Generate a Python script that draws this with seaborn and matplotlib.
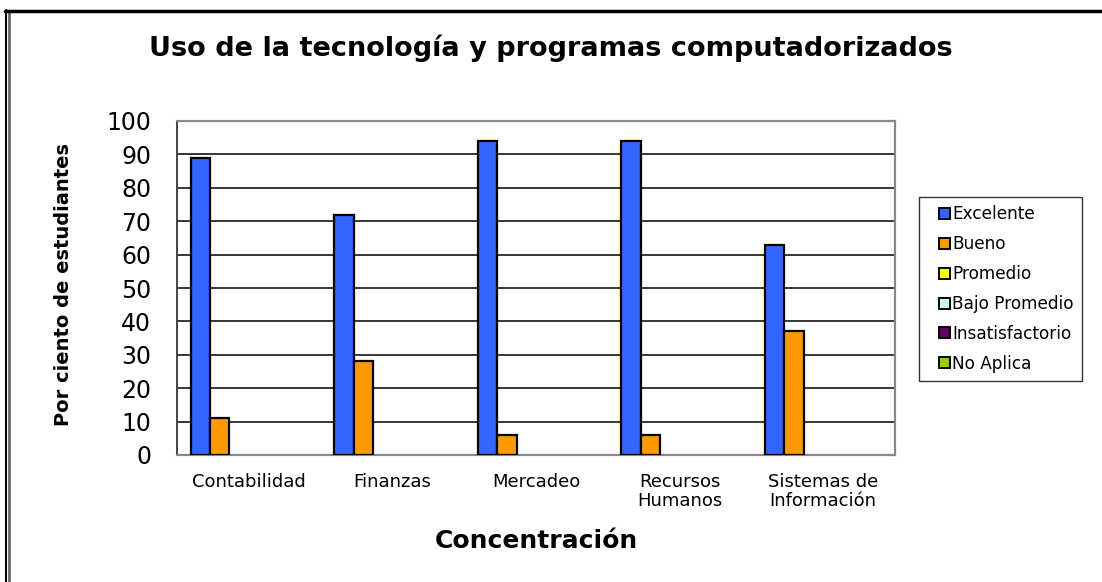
import numpy as np
import pandas as pd
import matplotlib
matplotlib.use("Agg")
import matplotlib.pyplot as plt
from matplotlib.lines import Line2D
from matplotlib.patches import Rectangle
from matplotlib.legend_handler import HandlerPatch
import seaborn as sns

# data
concentraciones = ["Contabilidad", "Finanzas", "Mercadeo", "Recursos\nHumanos", "Sistemas de\nInformación"]
niveles = ["Excelente", "Bueno", "Promedio", "Bajo Promedio", "Insatisfactorio", "No Aplica"]
excelente = [89, 72, 94, 94, 63]
bueno = [11, 28, 6, 6, 37]
promedio = [0, 0, 0, 0, 0]
bajo_promedio = [0, 0, 0, 0, 0]
insatisfactorio = [0, 0, 0, 0, 0]
no_aplica = [0, 0, 0, 0, 0]
colores = ["#3366FF", "#FF9900", "#FFFF00", "#CCFFFF", "#660066", "#99CC00"]
y_ticks = [0, 10, 20, 30, 40, 50, 60, 70, 80, 90, 100]

series = [excelente, bueno, promedio, bajo_promedio, insatisfactorio, no_aplica]
df = pd.DataFrame({
    "Concentración": np.tile(concentraciones, len(niveles)),
    "Nivel": np.repeat(niveles, len(concentraciones)),
    "Valor": np.concatenate(series),
})

sns.set_style("white")
plt.rcParams["font.family"] = ["DejaVu Sans"]
plt.rcParams["text.color"] = "black"
plt.rcParams["xtick.color"] = "black"
plt.rcParams["ytick.color"] = "black"
plt.rcParams["axes.labelcolor"] = "black"

W, H = 1102, 582
fig = plt.figure(figsize=(W / 100, H / 100), dpi=100)
ax = fig.add_axes([177 / W, 1 - 455 / H, (895 - 177) / W, (455 - 121) / H])

sns.barplot(
    data=df, x="Concentración", y="Valor", hue="Nivel",
    order=concentraciones, hue_order=niveles, palette=colores,
    saturation=1, width=0.81, gap=0, edgecolor="black", linewidth=1.6,
    dodge=True, legend=True, ax=ax, zorder=3,
)
# empty bars leave no outline in the original
for p in ax.patches:
    if p.get_height() == 0:
        p.set_linewidth(0)

ax.set_ylim(0, 100)
ax.set_xlim(-0.5, len(concentraciones) - 0.5)
ax.set_yticks(y_ticks)
ax.set_yticklabels([str(v) for v in y_ticks], fontsize=17)
ax.yaxis.grid(True, color="black", linewidth=1.1, zorder=0)
ax.set_axisbelow(True)

ax.set_xticks(range(len(concentraciones)))
ax.set_xticklabels(concentraciones, fontsize=13, linespacing=1.1)
ax.set_xticks(np.arange(-0.5, len(concentraciones), 1), minor=True)
ax.tick_params(axis="x", which="major", length=0, pad=13)
ax.tick_params(axis="x", which="minor", length=5, width=1.2, color="#555555", direction="out")
ax.tick_params(axis="y", length=6.5, width=1.2, color="#333333", direction="out", pad=12)

for side in ["top", "right", "bottom"]:
    ax.spines[side].set_color("#888888")
    ax.spines[side].set_linewidth(1.6)
ax.spines["left"].set_color("#444444")
ax.spines["left"].set_linewidth(1.4)

ax.set_xlabel("Concentración", fontsize=18, fontweight="bold", labelpad=13)
ax.set_ylabel("")
fig.text(64 / W, 1 - 285 / H, "Por ciento de estudiantes", rotation=90,
         ha="center", va="center", fontsize=14, fontweight="bold")
fig.suptitle("Uso de la tecnología y programas computadorizados",
             fontsize=19.5, fontweight="bold", x=0.5, y=1 - 35 / H)


def square_handle(legend, orig_handle, xdescent, ydescent, width, height, fontsize):
    s = height
    return Rectangle((width - s - xdescent, -ydescent), s, s)


handles, labels = ax.get_legend_handles_labels()
ax.get_legend().remove()
leg = fig.legend(
    handles, labels, loc="upper left", bbox_to_anchor=(919 / W, 1 - 197 / H),
    fontsize=12.2, frameon=True, fancybox=False, edgecolor="black",
    handlelength=1.3, handleheight=0.62, handletextpad=0.15,
    labelspacing=0.7, borderpad=0.5, borderaxespad=0,
    handler_map={Rectangle: HandlerPatch(patch_func=square_handle)},
)
leg.get_frame().set_linewidth(1.0)
for h in leg.legend_handles:
    h.set_edgecolor("black")
    h.set_linewidth(1.4)

# outer chart frame (left and top edges)
fig.add_artist(Line2D([5.5 / W, 5.5 / W], [0, 1 - 10 / H], color="black", lw=1.5, transform=fig.transFigure))
fig.add_artist(Line2D([9 / W, 9 / W], [0, 1 - 11.5 / H], color="#666666", lw=2, transform=fig.transFigure))
fig.add_artist(Line2D([5 / W, 1], [1 - 10.5 / H, 1 - 10.5 / H], color="black", lw=2.5, transform=fig.transFigure))

fig.savefig("out.png", dpi=100)
